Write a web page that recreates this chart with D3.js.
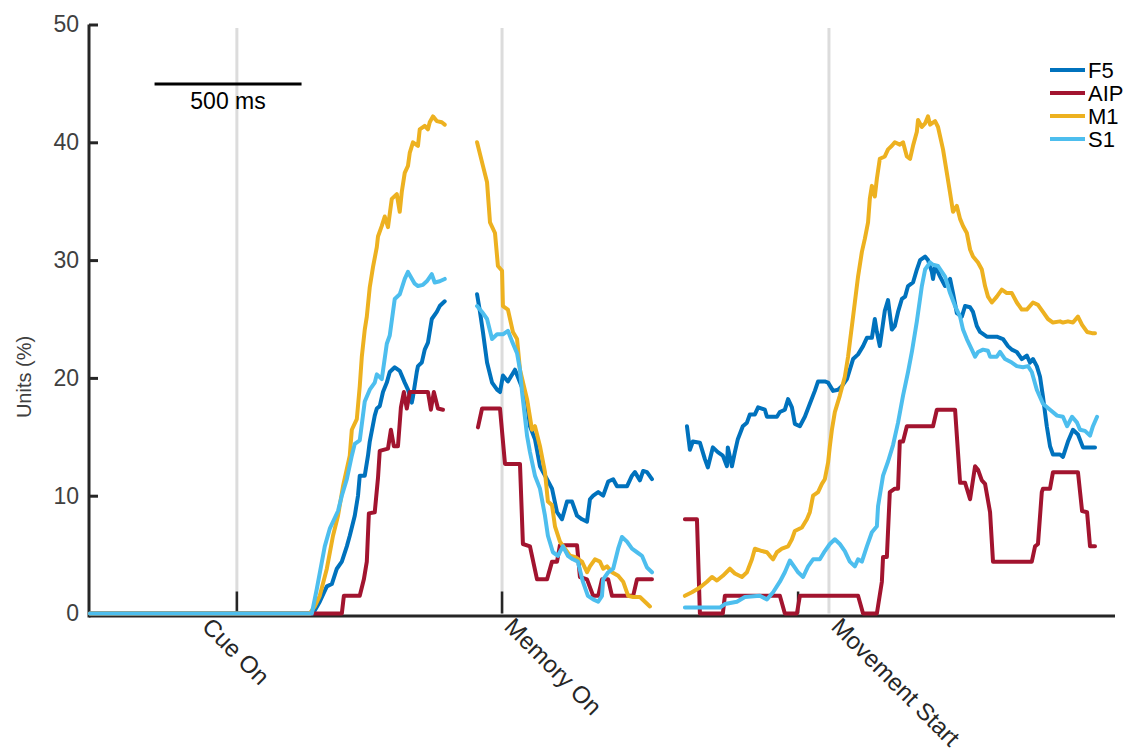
<!DOCTYPE html>
<html>
<head>
<meta charset="utf-8">
<script src="https://cdn.jsdelivr.net/npm/d3@7"></script>
<style>
  body { margin: 0; background: #fff; }
  text { font-family: "Liberation Sans", Arial, Helvetica, sans-serif; }
</style>
</head>
<body>
<svg id="chart"></svg>
<script>
// events the traces are aligned on, and where they sit on the joined time axis (ms)
const events = ["Cue On", "Memory On", "Movement Start"];
const eventTimes = [503, 1405, 2517];
const tickTimes = [0, 0, -105]; // black ticks, ms relative to each event
const areas = ["F5", "AIP", "M1", "S1"];
const yTicks = [0, 10, 20, 30, 40, 50];
const scaleBarMs = 500;

// % of units, [ms relative to event, value]
const f5Cue = [[-500,0],[259,0],[282,1.0],[306,2.3],[323,2.5],[340,3.8],[357,4.4],[374,5.7],[384,6.6],[401,8.3],[412,10.0],[418,11.7],[435,11.7],[446,13.4],[452,14.6],[469,16.8],[476,17.4],[486,17.6],[497,18.8],[510,19.6],[520,20.5],[537,20.9],[554,20.6],[571,19.6],[582,19.0],[595,17.9],[599,18.4],[612,20.5],[616,21.0],[629,21.3],[639,22.4],[650,23.0],[663,25.0],[680,25.6],[690,26.1],[707,26.5]];
const aipCue = [[-500,0],[357,0],[364,1.5],[418,1.5],[432,2.9],[442,4.4],[449,8.5],[469,8.6],[480,11.5],[486,13.8],[514,14.0],[524,15.6],[534,14.2],[548,14.2],[558,17.5],[568,18.8],[578,17.4],[588,18.8],[650,18.8],[660,17.3],[670,18.8],[684,17.4],[701,17.3]];
const m1Cue = [[-500,0],[248,0],[265,0.6],[282,1.5],[306,3.8],[327,6.6],[344,8.3],[361,10.8],[384,13.4],[391,15.6],[408,16.5],[418,19.3],[425,21.8],[435,24.1],[442,25.2],[452,27.7],[463,29.4],[476,31.1],[480,32.0],[493,32.9],[503,33.7],[514,32.8],[527,35.2],[544,35.6],[554,34.1],[561,35.8],[571,37.4],[582,38.0],[588,39.1],[599,40.0],[616,39.7],[622,41.1],[639,41.4],[650,41.1],[656,41.7],[667,42.2],[680,41.8],[697,41.7],[707,41.5]];
const s1Cue = [[-500,0],[255,0],[272,2.1],[299,5.7],[316,7.2],[344,8.7],[357,10.0],[374,11.4],[391,13.4],[401,14.4],[418,14.7],[435,18.0],[452,19.0],[469,19.6],[476,20.3],[493,19.9],[510,22.9],[520,23.6],[537,26.7],[554,27.1],[571,28.4],[582,29.0],[605,28.0],[616,27.8],[633,27.9],[646,28.2],[663,28.8],[673,28.1],[690,28.2],[707,28.4]];

const f5Memory = [[-85,27.1],[-75,25.6],[-65,23.9],[-51,21.3],[-34,19.6],[-17,19.0],[-7,18.8],[3,20.2],[20,19.7],[37,20.4],[44,20.7],[71,19.0],[85,17.9],[95,15.9],[112,14.8],[129,12.5],[153,11.4],[170,10.6],[187,8.6],[204,8.0],[221,9.5],[238,9.5],[255,8.3],[272,8.0],[289,7.8],[299,9.7],[310,10.0],[327,10.3],[344,10.0],[361,11.2],[378,11.4],[391,10.8],[425,10.8],[442,11.7],[452,12.0],[469,11.3],[480,12.1],[493,12.0],[510,11.4]];
const aipMemory = [[-82,15.8],[-68,17.4],[-7,17.4],[10,12.7],[61,12.7],[71,5.9],[95,5.7],[119,2.9],[153,2.9],[170,4.4],[187,4.4],[197,5.8],[255,5.8],[265,3.1],[289,2.9],[310,1.5],[327,1.5],[340,2.9],[361,2.9],[374,1.5],[446,1.5],[459,2.9],[510,2.9]];
const m1Memory = [[-85,40.0],[-65,38.0],[-51,36.6],[-41,33.2],[-24,32.3],[-14,29.5],[0,29.1],[3,26.1],[20,25.8],[37,23.9],[51,23.3],[61,20.7],[85,18.2],[102,15.6],[112,15.9],[129,14.2],[146,12.0],[156,9.5],[170,9.2],[180,7.4],[197,6.1],[214,5.5],[231,4.9],[248,4.8],[272,4.4],[289,3.5],[299,4.0],[316,4.6],[333,4.4],[344,3.8],[357,4.0],[374,3.5],[395,3.2],[412,2.7],[429,1.5],[446,1.4],[469,1.4],[486,1.0],[503,0.6]];
const s1Memory = [[-85,26.1],[-68,25.6],[-51,25.0],[-34,23.3],[-17,23.7],[3,23.7],[20,24.0],[34,23.1],[51,22.1],[61,20.7],[68,18.8],[85,15.1],[95,13.7],[112,11.7],[129,10.6],[146,8.3],[156,6.6],[173,5.2],[190,4.9],[207,5.7],[224,4.9],[241,4.6],[258,4.4],[275,2.7],[292,1.5],[310,1.2],[327,1.0],[340,1.5],[344,2.9],[361,3.5],[378,3.8],[395,5.5],[408,6.5],[425,6.1],[442,5.5],[459,5.2],[476,4.9],[493,3.9],[510,3.5]];

const f5Movement = [[-483,15.9],[-473,13.9],[-463,14.6],[-439,14.5],[-422,13.1],[-412,12.4],[-395,14.1],[-378,13.7],[-361,13.4],[-347,12.5],[-344,14.1],[-330,12.5],[-320,13.7],[-310,14.8],[-293,15.9],[-279,16.2],[-269,16.9],[-252,16.9],[-241,17.5],[-218,17.3],[-211,16.7],[-177,16.7],[-167,17.1],[-150,17.3],[-139,18.2],[-126,17.5],[-116,16.1],[-99,15.9],[-82,16.7],[-65,17.8],[-48,18.9],[-37,19.7],[-14,19.7],[-3,19.6],[14,18.9],[31,19.0],[44,19.3],[61,19.9],[71,20.7],[82,21.6],[99,22.0],[116,22.7],[129,23.4],[146,23.4],[156,25.0],[163,23.9],[173,22.7],[190,25.7],[201,26.6],[214,24.1],[224,24.4],[235,25.6],[248,26.7],[259,26.9],[269,27.8],[286,28.1],[299,29.2],[310,30.0],[327,30.3],[337,30.0],[350,29.0],[354,28.4],[361,29.5],[378,28.6],[395,27.8],[412,28.4],[422,27.2],[435,25.5],[452,25.2],[463,26.1],[480,26.0],[490,25.6],[503,24.4],[514,23.9],[537,23.5],[571,23.5],[592,23.3],[609,22.7],[622,22.4],[639,22.2],[656,21.6],[673,21.9],[684,21.3],[694,21.6],[707,21.0],[718,20.1],[728,18.4],[741,15.9],[752,14.2],[762,13.5],[786,13.5],[796,13.3],[813,14.6],[830,15.6],[847,15.2],[864,14.1],[905,14.1]];
const aipMovement = [[-490,8.0],[-449,8.0],[-439,0],[-361,0],[-354,1.5],[-167,1.5],[-150,0],[-109,0],[-99,1.5],[99,1.5],[116,0],[163,0],[180,2.7],[184,4.8],[197,4.8],[207,10.3],[224,10.6],[235,10.6],[241,14.6],[252,14.6],[265,15.9],[354,15.9],[367,17.3],[429,17.3],[446,11.1],[463,11.1],[480,9.7],[497,12.5],[507,12.2],[520,11.3],[531,11.0],[548,8.6],[558,4.4],[690,4.4],[701,5.7],[711,5.9],[724,10.3],[728,10.6],[752,10.6],[762,12.0],[847,12.0],[861,8.7],[878,8.6],[888,5.7],[905,5.7]];
const m1Movement = [[-490,1.5],[-466,1.8],[-439,2.2],[-415,2.7],[-398,3.1],[-381,2.8],[-361,3.2],[-337,3.8],[-320,3.4],[-296,3.1],[-279,3.5],[-262,4.6],[-252,5.5],[-228,5.3],[-211,5.2],[-201,4.9],[-190,4.6],[-177,5.2],[-160,5.5],[-139,5.7],[-126,6.3],[-116,7.0],[-92,7.3],[-75,8.0],[-65,8.6],[-54,10.0],[-37,10.3],[-24,11.0],[-14,11.4],[-3,12.8],[3,14.2],[10,15.6],[20,17.1],[37,18.5],[54,20.1],[65,21.8],[71,23.0],[82,25.2],[99,28.6],[112,30.7],[122,31.8],[133,33.2],[139,35.2],[146,36.3],[156,35.4],[163,36.9],[173,38.6],[190,38.8],[201,39.4],[214,39.7],[224,40.0],[241,39.8],[252,40.0],[265,38.8],[276,38.6],[286,39.7],[299,40.9],[303,41.9],[316,41.3],[327,41.6],[337,42.2],[344,41.5],[361,41.8],[371,41.3],[388,39.4],[401,37.4],[412,35.7],[422,34.1],[435,34.6],[446,33.5],[456,32.9],[469,32.3],[480,30.9],[490,30.3],[507,29.8],[520,29.2],[531,27.8],[541,26.9],[554,26.4],[571,26.9],[588,27.5],[605,27.2],[622,27.2],[639,26.4],[656,25.8],[673,25.8],[694,26.4],[711,26.2],[728,25.6],[745,25.0],[762,24.7],[786,24.8],[796,24.7],[813,24.8],[830,24.7],[847,25.2],[861,24.5],[878,23.9],[895,23.8],[905,23.8]];
const s1Movement = [[-490,0.5],[-371,0.5],[-354,0.8],[-313,1.0],[-286,1.4],[-235,1.5],[-211,1.2],[-190,1.8],[-167,2.7],[-150,3.5],[-133,4.5],[-116,3.9],[-105,3.5],[-88,3.1],[-71,4.0],[-54,4.6],[-31,4.6],[-14,5.3],[3,5.9],[20,6.3],[37,5.9],[54,5.3],[71,4.4],[88,4.0],[99,4.6],[112,4.4],[129,5.7],[146,6.9],[163,7.4],[167,9.1],[184,11.7],[201,12.9],[218,14.3],[235,16.2],[252,18.5],[269,20.5],[282,22.2],[299,24.8],[316,27.8],[327,29.2],[344,29.8],[354,29.6],[371,29.5],[395,28.6],[412,27.2],[429,26.1],[446,25.2],[456,24.1],[469,23.3],[486,22.4],[497,21.8],[507,22.2],[524,22.4],[541,22.3],[548,21.8],[571,21.8],[582,22.2],[599,21.6],[622,21.3],[639,21.0],[660,20.9],[677,21.0],[690,20.5],[707,19.0],[728,17.8],[752,17.3],[776,16.8],[796,16.7],[810,15.9],[827,16.7],[844,16.2],[854,15.6],[871,15.5],[888,15.1],[898,15.9],[912,16.7]];

const seriesData = {
  F5: [f5Cue, f5Memory, f5Movement],
  AIP: [aipCue, aipMemory, aipMovement],
  M1: [m1Cue, m1Memory, m1Movement],
  S1: [s1Cue, s1Memory, s1Movement]
};

const colors = { F5: "#0072BD", AIP: "#A2142F", M1: "#EDB120", S1: "#4DBEEE" };
const width = 1134, height = 753;
const axisColor = "#262626";

const svg = d3.select("#chart").attr("width", width).attr("height", height);

const x = d3.scaleLinear().domain([0, 3490]).range([89, 1115]);
const y = d3.scaleLinear().domain([0, 50]).range([613.5, 24.5]);

// grey event lines
svg.append("g")
  .selectAll("line")
  .data(eventTimes)
  .enter()
  .append("line")
  .attr("x1", d => x(d)).attr("x2", d => x(d))
  .attr("y1", 28).attr("y2", y(0))
  .attr("stroke", "#dcdcdc")
  .attr("stroke-width", 3);

// black ticks on the time axis
svg.append("g")
  .selectAll("line")
  .data(tickTimes)
  .enter()
  .append("line")
  .attr("x1", (d, i) => x(eventTimes[i] + d)).attr("x2", (d, i) => x(eventTimes[i] + d))
  .attr("y1", y(0) - 22).attr("y2", y(0))
  .attr("stroke", axisColor)
  .attr("stroke-width", 2.5);

// x axis line, drawn under the traces
svg.append("line")
  .attr("x1", 89).attr("x2", 1115)
  .attr("y1", y(0) + 2.5).attr("y2", y(0) + 2.5)
  .attr("stroke", axisColor)
  .attr("stroke-width", 3);

// y axis
const yAxis = d3.axisLeft(y).tickValues(yTicks).tickSize(-9).tickPadding(10);
const yAxisG = svg.append("g")
  .attr("transform", "translate(89,0)")
  .call(yAxis);
yAxisG.select(".domain").attr("stroke", axisColor).attr("stroke-width", 3)
  .attr("d", `M0,${y(50)}V${y(0) + 4}`);
yAxisG.selectAll(".tick line").attr("stroke", axisColor).attr("stroke-width", 3);
yAxisG.selectAll(".tick text")
  .attr("fill", "#404040")
  .style("font-size", "23px")
  .style("font-family", "'Liberation Sans', Arial, sans-serif");

// traces
const line = d3.line()
  .x(d => x(d.t))
  .y(d => y(d.v));

const traces = svg.append("g").attr("fill", "none");
areas.forEach(area => {
  seriesData[area].forEach((seg, i) => {
    traces.append("path")
      .datum(seg.map(p => ({ t: eventTimes[i] + p[0], v: p[1] })))
      .attr("d", line)
      .attr("stroke", colors[area])
      .attr("stroke-width", 4)
      .attr("stroke-linejoin", "round")
      .attr("stroke-linecap", "round");
  });
});

svg.append("text")
  .attr("transform", "translate(31,377) rotate(-90)")
  .attr("text-anchor", "middle")
  .attr("fill", "#404040")
  .style("font-size", "20px")
  .text("Units (%)");

// rotated event labels
const labelShift = [-36, 1, 1];
svg.append("g")
  .selectAll("text")
  .data(events)
  .enter()
  .append("text")
  .attr("transform", (d, i) => `translate(${x(eventTimes[i]) + labelShift[i]},628) rotate(45)`)
  .attr("fill", "#262626")
  .style("font-size", "24px")
  .text(d => d);

// scale bar
const barStart = eventTimes[0] - 280;
svg.append("line")
  .attr("x1", x(barStart)).attr("x2", x(barStart + scaleBarMs))
  .attr("y1", 84).attr("y2", 84)
  .attr("stroke", "#000")
  .attr("stroke-width", 3);
svg.append("text")
  .attr("x", (x(barStart) + x(barStart + scaleBarMs)) / 2)
  .attr("y", 109)
  .attr("text-anchor", "middle")
  .attr("fill", "#000")
  .style("font-size", "23px")
  .text(scaleBarMs + " ms");

// legend
const legend = svg.append("g")
  .selectAll("g")
  .data(areas)
  .enter()
  .append("g")
  .attr("transform", (d, i) => `translate(1050,${70 + i * 23})`);
legend.append("line")
  .attr("x1", 0).attr("x2", 35)
  .attr("stroke", d => colors[d])
  .attr("stroke-width", 4);
legend.append("text")
  .attr("x", 38).attr("y", 0)
  .attr("dy", "0.36em")
  .attr("fill", "#000")
  .style("font-size", "22px")
  .text(d => d);
</script>
</body>
</html>
